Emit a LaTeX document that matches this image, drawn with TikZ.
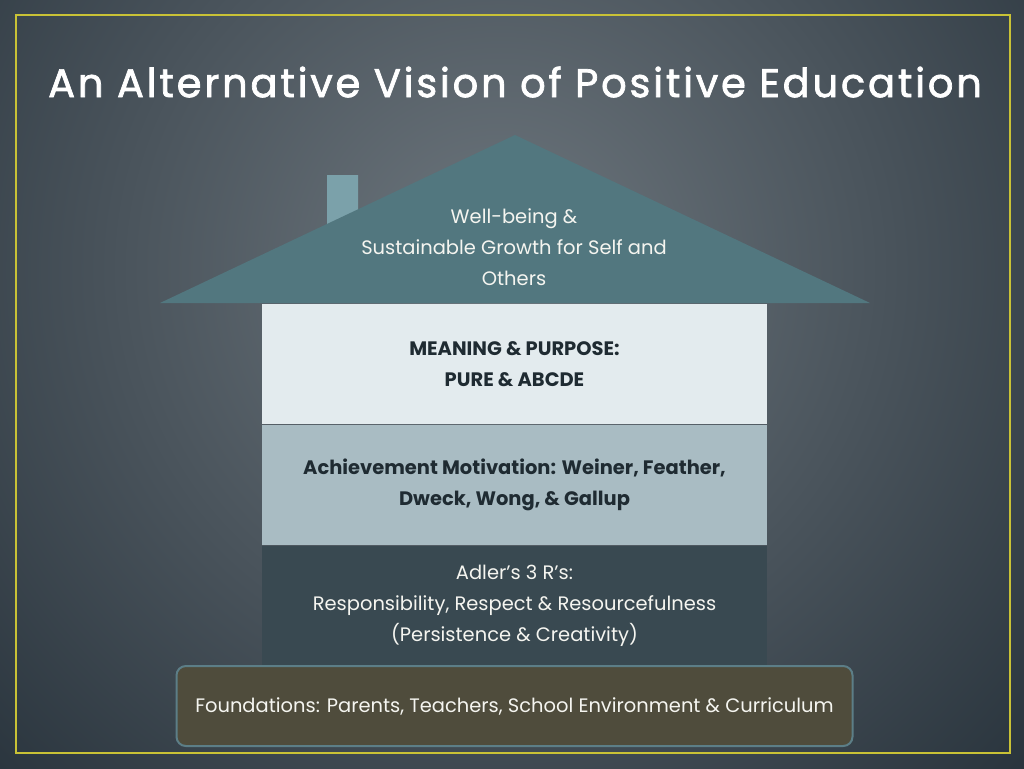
\documentclass[tikz,border=0pt]{standalone}
\usepackage{fontspec}
\setmainfont{Poppins}
\newfontfamily\titlefont[LetterSpace=7,FakeBold=1.8]{Poppins}
\usetikzlibrary{positioning}

\definecolor{bgdark}{HTML}{26313A}
\definecolor{bglight}{HTML}{6E777E}
\definecolor{framegold}{HTML}{C9C236}
\definecolor{rooffill}{HTML}{52777F}
\definecolor{chimneyfill}{HTML}{7BA1AA}
\definecolor{meaningfill}{HTML}{E3EBEE}
\definecolor{motivfill}{HTML}{A9BCC3}
\definecolor{adlerfill}{HTML}{394951}
\definecolor{basefill}{HTML}{4F4C3C}
\definecolor{baseedge}{HTML}{5C7E87}
\definecolor{darktext}{HTML}{1F2B32}
\definecolor{lighttext}{HTML}{F5F5F0}

\begin{document}
\begin{tikzpicture}[x=0.75pt, y=-0.75pt,
    bodyfont/.style={font=\fontsize{14.6}{23.25}\selectfont},
    boldfont/.style={font=\fontsize{14.6}{23.25}\selectfont\bfseries},
    layer/.style={rectangle, inner sep=0pt, minimum width=378.75pt,
        minimum height=90.4pt, align=center},
    basebox/.style={rectangle, rounded corners=7pt, fill=basefill,
        draw=baseedge, line width=1.5pt, minimum width=507pt,
        minimum height=60pt, text=lighttext, bodyfont}]

    % Slide background and frame
    \useasboundingbox (0,0) rectangle (1024,768);
    \fill[bgdark] (0,0) rectangle (1024,768);
    \begin{scope}
        \clip (0,0) rectangle (1024,768);
        \shade[inner color=bglight, outer color=bgdark] (500,270) circle (760);
    \end{scope}
    \draw[framegold, line width=1.5pt] (16,15) rectangle (1010,753);

    % Title
    \node[text=white, font=\titlefont\fontsize{30}{32}\selectfont]
        (title) at (515,82) {An Alternative Vision of Positive Education};

    % Roof with chimney
    \fill[chimneyfill] (327,175) -- (358,175) -- (358,210) -- (327,225) -- cycle;
    \fill[rooffill] (160,303) -- (515,135) -- (870,303) -- cycle;
    \node[text=lighttext, align=center, bodyfont] (wellbeing) at (514,247)
        {Well-being \&\\Sustainable Growth for Self and\\Others};

    % Layers of the house
    \node[layer, fill=meaningfill, text=darktext, boldfont]
        (meaning) at (514.5,364) {MEANING \& PURPOSE:\\PURE \& ABCDE};
    \node[layer, fill=motivfill, text=darktext, boldfont, below=0pt of meaning]
        (motiv) {Achievement Motivation: Weiner, Feather,\\Dweck, Wong, \& Gallup};
    \node[layer, fill=adlerfill, text=lighttext, bodyfont, below=0pt of motiv]
        (adler) {Adler’s 3 R’s:\\Responsibility, Respect \& Resourcefulness\\(Persistence \& Creativity)};

    % Foundation
    \node[basebox] (base) at (514.5,706)
        {Foundations: Parents, Teachers, School Environment \& Curriculum};

\end{tikzpicture}
\end{document}
